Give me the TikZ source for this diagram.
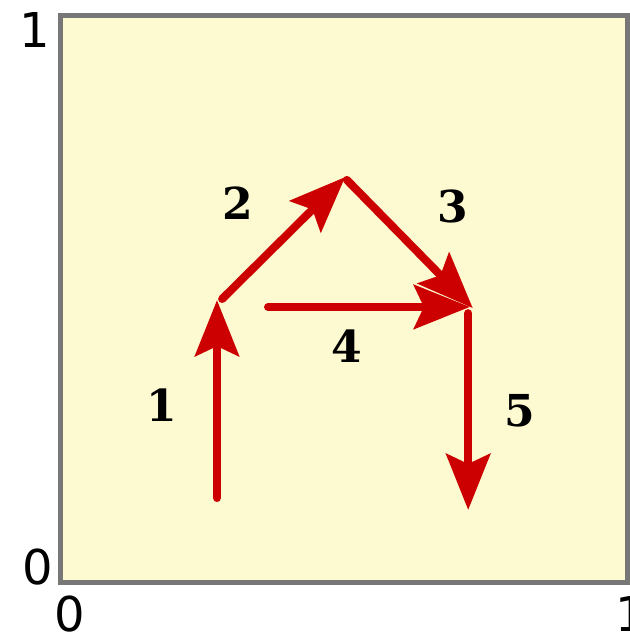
\documentclass[tikz,border=0pt]{standalone}
\usepackage{fontspec}
\setmainfont{DejaVu Sans}
\newfontfamily\steplabelfont{DejaVu Serif}
\usetikzlibrary{arrows.meta}

\definecolor{panel}{HTML}{FDF9D0}
\definecolor{framegray}{HTML}{777777}
\definecolor{movered}{HTML}{CC0000}

\begin{document}
\begin{tikzpicture}[
    x=283.5pt, y=283.5pt,
    move/.style={-{Stealth[length=28pt, width=22pt, inset=5pt]}, line width=4pt, line cap=round, draw=movered},
    steplabel/.style={font=\steplabelfont\bfseries\fontsize{22}{26}\selectfont},
    ticklabel/.style={font=\fontsize{24}{28}\selectfont, inner sep=0pt}
]

\useasboundingbox (-0.1067,-0.0908) rectangle (1.0026,1.0273);

% panel
\draw[draw=framegray, line width=2.5pt, fill=panel] (0,0) rectangle (1,1);

% axis ticks
\node[ticklabel] (ytop) at (-0.045,0.974) {1};
\node[ticklabel] (ybot) at (-0.040,0.027) {0};
\node[ticklabel] (xleft) at (0.017,-0.056) {0};
\node[ticklabel] (xright) at (1.005,-0.056) {1};

% path points
\coordinate (p1s) at (0.276,0.149);
\coordinate (p1e) at (0.276,0.498);
\coordinate (p2s) at (0.285,0.500);
\coordinate (p2e) at (0.502,0.715);
\coordinate (p3s) at (0.505,0.710);
\coordinate (p3e) at (0.727,0.484);
\coordinate (p4s) at (0.366,0.486);
\coordinate (p4e) at (0.722,0.486);
\coordinate (p5s) at (0.719,0.475);
\coordinate (p5e) at (0.719,0.128);

\draw[move] (p1s) -- (p1e);
\draw[move] (p2s) -- (p2e);
\draw[move] (p4s) -- (p4e);
\draw[move] (p3s) -- (p3e);
\draw[move] (p5s) -- (p5e);

% step numbers
\node[steplabel] (s1) at (0.179,0.313) {1};
\node[steplabel] (s2) at (0.313,0.669) {2};
\node[steplabel] (s3) at (0.692,0.664) {3};
\node[steplabel] (s4) at (0.505,0.417) {4};
\node[steplabel] (s5) at (0.810,0.302) {5};

\end{tikzpicture}
\end{document}
